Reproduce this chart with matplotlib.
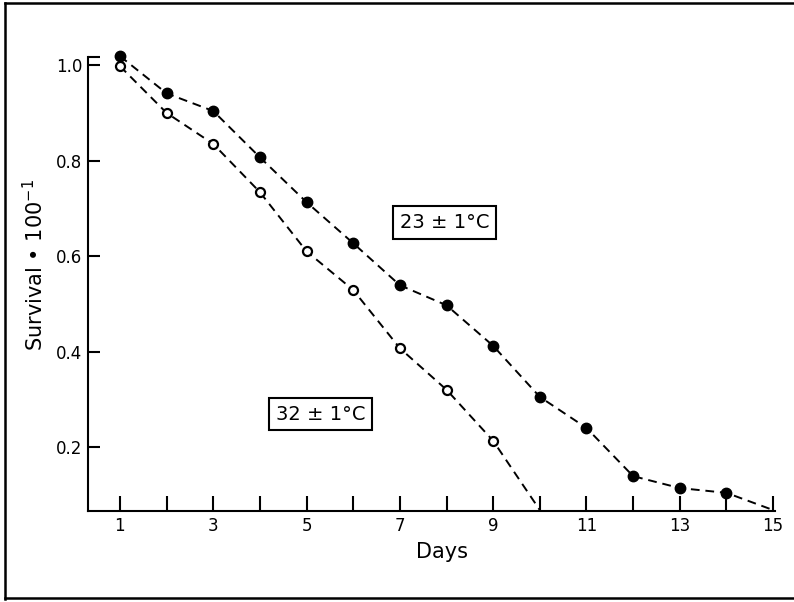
"""Survival curves at two temperatures"""
import matplotlib
matplotlib.use("Agg")
import matplotlib.pyplot as plt
from matplotlib.lines import Line2D

# survival
days_23 = [1, 2, 3, 4, 5, 6, 7, 8, 9, 10, 11, 12, 13, 14, 15]
surv_23 = [1.019, 0.941, 0.904, 0.807, 0.713, 0.627, 0.539, 0.497, 0.412,
           0.305, 0.240, 0.139, 0.114, 0.104, 0.068]

days_32 = [1, 2, 3, 4, 5, 6, 7, 8, 9, 10]
surv_32 = [0.998, 0.900, 0.835, 0.734, 0.610, 0.529, 0.407, 0.320, 0.213, 0.068]

x_ticks = list(range(1, 16))
x_ticklabels = [str(d) if d % 2 == 1 else "" for d in x_ticks]
y_ticks = [0.2, 0.4, 0.6, 0.8, 1.0]
y_ticklabels = ["0.2", "0.4", "0.6", "0.8", "1.0"]

fig = plt.figure(figsize=(7.94, 6.02), dpi=100)
ax = fig.add_axes([0.1108, 0.1512, 0.8652, 0.754])

# last point of each curve sits on the axis, drawn without a marker
dash = (0, (4.5, 3))
ax.plot(days_23, surv_23, color="black", lw=1.4, linestyle=dash,
        marker="o", markersize=7.5, markerfacecolor="black",
        markeredgecolor="black", markevery=slice(0, -1),
        zorder=3, clip_on=False)
ax.plot(days_32, surv_32, color="black", lw=1.4, linestyle=dash,
        marker="o", markersize=6.5, markerfacecolor="white",
        markeredgecolor="black", markeredgewidth=1.6,
        markevery=slice(0, -1), zorder=3, clip_on=False)

ax.set_xlim(0.315, 15.04)
ax.set_ylim(0.066, 1.017)

ax.set_xticks(x_ticks)
ax.set_xticklabels(x_ticklabels)
ax.set_yticks(y_ticks)
ax.set_yticklabels(y_ticklabels)
ax.set_yticks([1.017], minor=True)

ax.tick_params(axis="x", direction="in", length=11, width=1.5,
               labelsize=12, pad=4)
ax.tick_params(axis="y", direction="in", length=8.5, width=1.5,
               labelsize=12, pad=4)
ax.tick_params(axis="y", which="minor", direction="in", length=8.5, width=1.5)

for side in ["top", "right"]:
    ax.spines[side].set_visible(False)
for side in ["left", "bottom"]:
    ax.spines[side].set_linewidth(1.5)

box = dict(boxstyle="square,pad=0.35", facecolor="white",
           edgecolor="black", linewidth=1.5)
ax.text(7.96, 0.671, "23 ± 1°C", fontsize=14, ha="center", va="center", bbox=box)
ax.text(5.30, 0.269, "32 ± 1°C", fontsize=14, ha="center", va="center", bbox=box)

fig.text(0.557, 0.083, "Days", fontsize=15, ha="center", va="center")
fig.text(0.044, 0.56, "Survival • 100$^{-1}$", fontsize=15, rotation=90,
         ha="center", va="center")

# frame around the figure (right edge falls off the scan)
for xs, ys in [((0.006, 1.0), (0.995, 0.995)),
               ((0.006, 0.006), (0.005, 0.995)),
               ((0.006, 1.0), (0.006, 0.006))]:
    fig.add_artist(Line2D(xs, ys, color="black", lw=1.8,
                          transform=fig.transFigure))

fig.savefig("out.png", dpi=100)
